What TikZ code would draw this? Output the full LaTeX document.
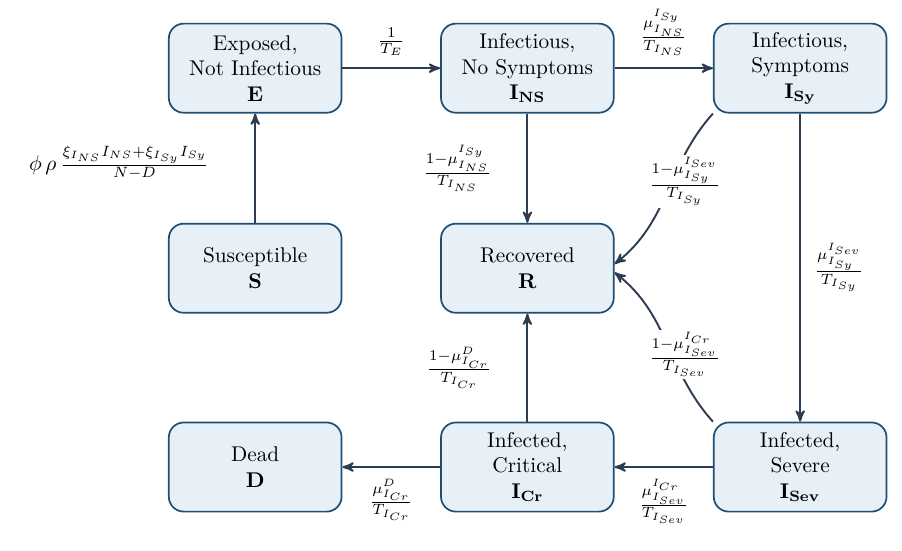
\documentclass[tikz,border=0pt]{standalone}
\usepackage{amsmath,amssymb}
\usepackage{tikz}
\usetikzlibrary{arrows,calc}
\definecolor{boxline}{RGB}{32,78,115}
\definecolor{boxfill}{RGB}{231,239,247}
\definecolor{flowline}{RGB}{45,60,82}

\begin{document}
\begin{tikzpicture}[compartment/.style={draw=boxline,thick,fill=boxfill,rounded corners=7pt,minimum width=2.85cm,minimum height=1.47cm,align=center,inner sep=2pt},
flow/.style={line width=0.9pt,draw=flowline,-stealth'},
rate/.style={fill=white,inner sep=1pt}]
\useasboundingbox (0,0) rectangle (14.88,9.075);

% compartments
\node[compartment] (E) at (4.21,7.95) {Exposed,\\Not Infectious\\$\mathbf{E}$};
\node[compartment] (INS) at (8.70,7.95) {Infectious,\\No Symptoms\\$\mathbf{I_{NS}}$};
\node[compartment] (ISy) at (13.20,7.95) {Infectious,\\Symptoms\\$\mathbf{I_{Sy}}$};
\node[compartment] (S) at (4.21,4.65) {Susceptible\\$\mathbf{S}$};
\node[compartment] (R) at (8.70,4.65) {Recovered\\$\mathbf{R}$};
\node[compartment] (D) at (4.21,1.37) {Dead\\$\mathbf{D}$};
\node[compartment] (ICr) at (8.70,1.37) {Infected,\\Critical\\$\mathbf{I_{Cr}}$};
\node[compartment] (ISev) at (13.20,1.37) {Infected,\\Severe\\$\mathbf{I_{Sev}}$};

% transitions
\draw[flow] (S) -- node[left=18pt,pos=0.55] {$\phi\,\rho\,\frac{\xi_{I_{NS}}I_{NS}+\xi_{I_{Sy}}I_{Sy}}{N-D}$} (E);
\draw[flow] (E) -- node[above=2pt] {$\frac{1}{T_E}$} (INS);
\draw[flow] (INS) -- node[above=2pt] {$\frac{\mu_{I_{NS}}^{I_{Sy}}}{T_{I_{NS}}}$} (ISy);
\draw[flow] (INS) -- node[left=13pt] {$\frac{1-\mu_{I_{NS}}^{I_{Sy}}}{T_{I_{NS}}}$} (R);
\draw[flow] (ISy) -- node[right=3pt] {$\frac{\mu_{I_{Sy}}^{I_{Sev}}}{T_{I_{Sy}}}$} (ISev);
\draw[flow] (ISy.south west) to[out=228,in=38] node[rate,pos=0.43,xshift=6pt] {$\frac{1-\mu_{I_{Sy}}^{I_{Sev}}}{T_{I_{Sy}}}$} ([yshift=2pt]R.east);
\draw[flow] (ISev.north west) to[out=132,in=-38] node[rate,pos=0.43,xshift=6pt] {$\frac{1-\mu_{I_{Sev}}^{I_{Cr}}}{T_{I_{Sev}}}$} ([yshift=-2pt]R.east);
\draw[flow] (ISev) -- node[below=2pt] {$\frac{\mu_{I_{Sev}}^{I_{Cr}}}{T_{I_{Sev}}}$} (ICr);
\draw[flow] (ICr) -- node[left=13pt] {$\frac{1-\mu_{I_{Cr}}^{D}}{T_{I_{Cr}}}$} (R);
\draw[flow] (ICr) -- node[below=2pt] {$\frac{\mu_{I_{Cr}}^{D}}{T_{I_{Cr}}}$} (D);

\end{tikzpicture}
\end{document}
